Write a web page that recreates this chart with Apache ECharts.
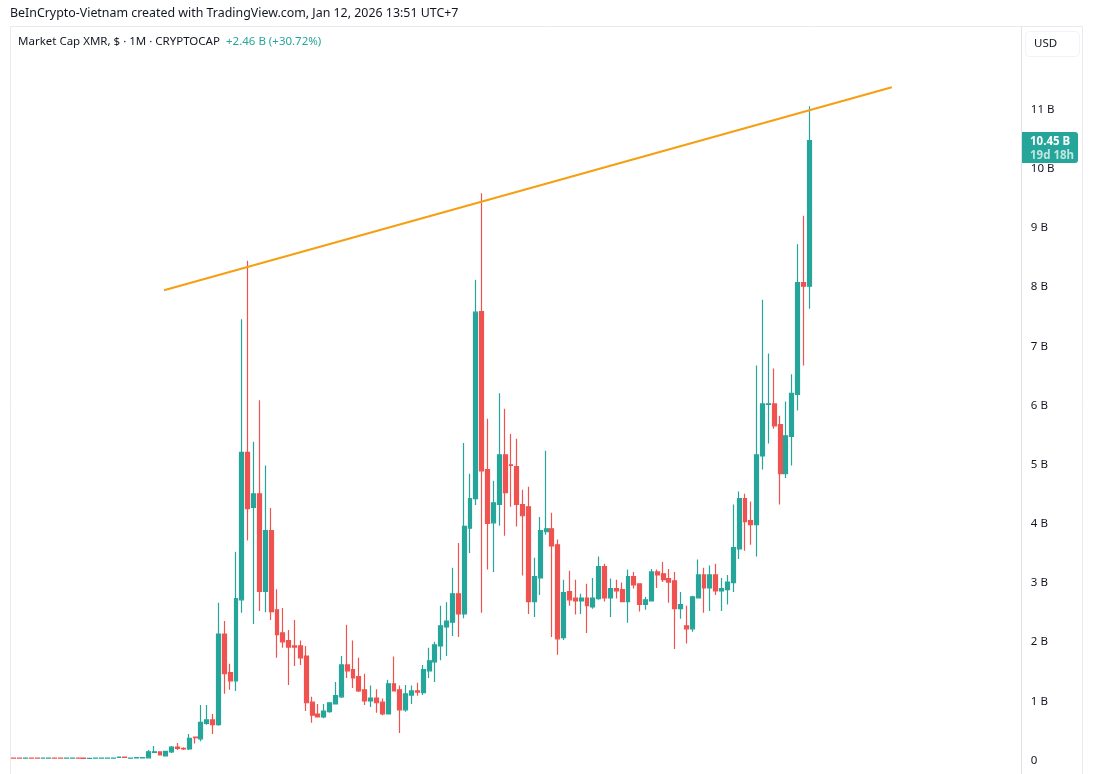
<!DOCTYPE html>
<html>
<head>
<meta charset="utf-8">
<title>Market Cap XMR</title>
<script src="https://cdn.jsdelivr.net/npm/echarts@6/dist/echarts.min.js"></script>
<style>
  html, body { margin: 0; padding: 0; background: #fff; overflow: hidden; }
  #chart { width: 1093px; height: 774px; }
</style>
</head>
<body>
<div id="chart"></div>
<script>
// monthly candles in billions of USD, Sep 2014 -> Jan 2026
const opens = [
  .014,.013,.012,.014,.013,.012,.012,.014,.013,.012,.012,.014,.013,.011,.012,.012,.012,.012,.025,.03,.012,.02,.02,
  .02,.11,.12,.05,.12,.20,.18,.17,.37,.34,.60,.66,.58,2.11,1.46,1.32,2.69,5.18,4.25,4.48,2.83,3.86,2.52,2.13,2.00,1.91,1.91,1.74,
  .96,.76,.71,.80,.93,1.05,1.59,1.51,1.39,1.17,.98,1.03,.96,.76,1.27,1.17,.83,1.08,1.15,1.12,1.49,1.64,1.91,2.23,2.31,2.79,
  2.45,3.90,4.40,7.56,4.89,3.99,4.30,5.14,4.97,4.94,4.30,4.26,2.66,3.06,3.84,3.89,3.62,2.05,2.83,2.72,2.67,2.72,2.57,2.71,3.25,
  2.72,2.88,2.86,2.66,3.08,2.96,2.61,2.67,3.16,3.13,3.05,3.01,2.54,2.25,2.20,2.72,3.11,2.89,3.11,2.84,2.86,2.98,3.55,4.40,4.03,
  3.96,5.12,5.99,6.00,5.65,4.82,5.45,6.16,8.05,7.99
];
const closes = [
  .013,.012,.013,.012,.012,.013,.014,.012,.012,.014,.013,.012,.011,.012,.013,.014,.013,.014,.03,.025,.015,.025,.025,
  .12,.12,.07,.13,.20,.18,.17,.35,.36,.62,.66,.58,2.11,1.44,1.32,2.71,5.18,4.23,4.48,2.83,3.86,2.49,2.10,1.98,1.89,1.89,1.71,.95,
  .74,.71,.81,.95,1.07,1.59,1.49,1.37,1.15,.98,1.03,.95,.76,1.27,1.15,.83,1.10,1.15,1.13,1.51,1.66,1.93,2.25,2.33,2.79,2.45,
  3.93,4.40,7.55,4.87,3.98,4.33,5.14,4.50,4.96,4.30,4.11,2.66,3.08,3.86,3.89,3.60,2.03,2.81,2.69,2.67,2.72,2.59,2.72,3.25,2.72,
  2.88,2.84,2.66,3.08,2.94,2.61,2.69,3.16,3.11,3.03,2.99,2.54,2.61,2.20,2.74,3.11,2.89,3.11,2.84,2.88,2.99,3.57,4.40,4.01,3.96,
  5.14,6.00,6.00,5.63,4.82,5.46,6.18,8.05,7.99,10.45
];
const highs = [
  .016,.015,.015,.016,.015,.015,.016,.016,.015,.016,.015,.016,.015,.014,.015,.016,.015,.016,.032,.032,.017,.027,.027,
  .15,.22,.12,.13,.22,.27,.20,.42,.38,.91,.91,.76,2.64,2.33,1.61,3.50,7.43,8.42,5.36,6.06,4.96,4.24,2.87,2.55,2.18,2.35,2.00,1.91,
  1.05,.93,.93,.96,1.30,1.74,2.27,2.00,1.71,1.44,1.24,1.18,1.02,1.34,1.73,1.24,1.25,1.24,1.29,1.59,1.88,1.98,2.59,2.65,3.23,3.65,
  5.34,4.82,8.10,9.56,5.75,4.70,6.18,5.92,5.49,5.41,4.55,4.60,3.40,4.09,5.21,4.16,3.71,3.03,3.18,3.03,2.79,2.96,3.06,3.42,3.30,
  3.05,3.03,2.98,3.20,3.16,2.96,2.74,3.21,3.20,3.33,3.21,3.16,2.82,2.59,2.76,3.37,3.23,3.27,3.30,3.06,3.11,4.30,4.52,4.48,4.35,
  6.65,7.76,6.85,6.60,5.80,6.04,6.50,8.70,9.18,11.03
];
const lows = [
  .011,.010,.010,.010,.010,.010,.010,.010,.010,.010,.010,.010,.009,.009,.010,.010,.010,.010,.023,.023,.010,.018,.018,
  .02,.10,.07,.05,.10,.15,.15,.15,.26,.30,.58,.42,.56,1.10,1.17,1.15,2.47,3.69,2.28,2.50,2.48,2.35,1.71,1.88,1.25,1.57,1.59,.81,
  .61,.71,.69,.78,.93,1.03,1.37,1.20,1.13,.91,.88,.78,.74,.76,1.15,.44,.80,.93,1.07,1.08,1.37,1.30,1.67,1.74,2.08,2.06,
  2.38,3.48,4.29,2.47,3.20,3.16,3.94,3.77,4.26,3.93,3.10,2.45,2.40,2.77,3.79,2.06,1.76,2.01,2.59,2.44,2.45,2.13,2.54,2.69,2.66,
  2.40,2.71,2.66,2.30,2.88,2.49,2.52,2.67,2.89,2.99,2.64,1.86,2.37,1.95,2.15,2.72,2.47,2.50,2.77,2.50,2.61,2.82,3.38,3.52,3.62,
  3.42,4.89,5.33,5.58,4.30,4.75,4.96,5.89,6.65,7.61
];
const tickValues = [0, 1, 2, 3, 4, 5, 6, 7, 8, 9, 10, 11];
const tickLabels = ['0', '1 B', '2 B', '3 B', '4 B', '5 B', '6 B', '7 B', '8 B', '9 B', '10 B', '11 B'];
const trendSlots = [26.2, 150.6];
const trendValues = [7.92, 11.35];

const UP = '#26a69a';
const DOWN = '#ef5350';
const TEXT = '#131722';
const LINE = '#e9eaed';
const FONT = '"Noto Sans", sans-serif';

// the time axis keeps running past the last candle
const SLOTS = 173;
const monthNames = ['Jan', 'Feb', 'Mar', 'Apr', 'May', 'Jun', 'Jul', 'Aug', 'Sep', 'Oct', 'Nov', 'Dec'];
const months = [];
for (let i = 0; i < SLOTS; i++) {
  const m = 8 + i;
  months.push(monthNames[m % 12] + ' ' + (2014 + Math.floor(m / 12)));
}

const candles = opens.map((o, i) => [o, closes[i], lows[i], highs[i]]);

const chart = echarts.init(document.getElementById('chart'));

chart.setOption({
  animation: false,
  backgroundColor: '#fff',
  textStyle: { fontFamily: FONT },
  grid: { left: 10.8, top: 26, width: 1012.05, height: 748 },
  xAxis: [
    { type: 'category', data: months, show: false },
    { type: 'value', min: 0, max: SLOTS, show: false }
  ],
  yAxis: {
    type: 'value',
    position: 'right',
    min: -0.254,
    max: 12.386,
    splitLine: { show: false },
    axisLine: { show: false },
    axisTick: { show: false },
    axisLabel: {
      customValues: tickValues,
      margin: 8,
      // rich padding nudges the text down to sit on the tick
      rich: { t: { padding: [3, 0, 0, 0], fontSize: 11.5, fontFamily: FONT, color: TEXT } },
      formatter: (v) => '{t|' + tickLabels[tickValues.indexOf(v)] + '}'
    }
  },
  series: [
    {
      type: 'candlestick',
      data: candles,
      barWidth: 4.4,
      itemStyle: { color: UP, color0: DOWN, borderColor: UP, borderColor0: DOWN, borderWidth: 1.2 }
    },
    {
      type: 'line',
      xAxisIndex: 1,
      data: trendSlots.map((s, i) => [s, trendValues[i]]),
      symbol: 'none',
      lineStyle: { color: '#f59f12', width: 2.2 },
      silent: true,
      z: 3
    }
  ]
});

const lastY = chart.convertToPixel({ yAxisIndex: 0 }, closes[closes.length - 1]);

chart.setOption({
  graphic: [
    { type: 'line', silent: true, shape: { x1: 10.5, y1: 26.5, x2: 1082.5, y2: 26.5 }, style: { stroke: LINE } },
    { type: 'line', silent: true, shape: { x1: 10.5, y1: 26.5, x2: 10.5, y2: 774 }, style: { stroke: LINE } },
    { type: 'line', silent: true, shape: { x1: 1021.5, y1: 26.5, x2: 1021.5, y2: 774 }, style: { stroke: '#dfe1e6' } },
    { type: 'line', silent: true, shape: { x1: 1082.5, y1: 26.5, x2: 1082.5, y2: 774 }, style: { stroke: LINE } },
    {
      type: 'text', left: 10, top: 7, silent: true,
      style: { text: 'BeInCrypto-Vietnam created with TradingView.com, Jan 12, 2026 13:51 UTC+7', fill: TEXT, font: '12.4px ' + FONT }
    },
    {
      type: 'text', left: 18, top: 36, silent: true,
      style: { text: 'Market Cap XMR, $ · 1M · CRYPTOCAP', fill: TEXT, font: '11.5px ' + FONT }
    },
    {
      type: 'text', left: 226, top: 36, silent: true,
      style: { text: '+2.46 B (+30.72%)', fill: UP, font: '11.5px ' + FONT }
    },
    {
      type: 'rect', silent: true, shape: { x: 1025.5, y: 31.5, width: 54, height: 25, r: 4 },
      style: { fill: '#fff', stroke: '#f0f3fa' }
    },
    {
      type: 'text', left: 1034, top: 38, silent: true,
      style: { text: 'USD', fill: TEXT, font: '11.5px ' + FONT }
    },
    {
      type: 'rect', silent: true, z: 10, shape: { x: 1022, y: lastY - 8.5, width: 56, height: 31, r: [0, 3, 3, 0] },
      style: { fill: UP }
    },
    {
      type: 'text', silent: true, z: 11, x: 1030, y: lastY - 5,
      style: { text: '10.45 B', fill: '#fff', font: 'bold 11.5px ' + FONT }
    },
    {
      type: 'text', silent: true, z: 11, x: 1030, y: lastY + 9,
      style: { text: '19d 18h', fill: '#bfe6e1', font: 'bold 11.5px ' + FONT }
    }
  ]
});

window.addEventListener('resize', chart.resize);
</script>
</body>
</html>
